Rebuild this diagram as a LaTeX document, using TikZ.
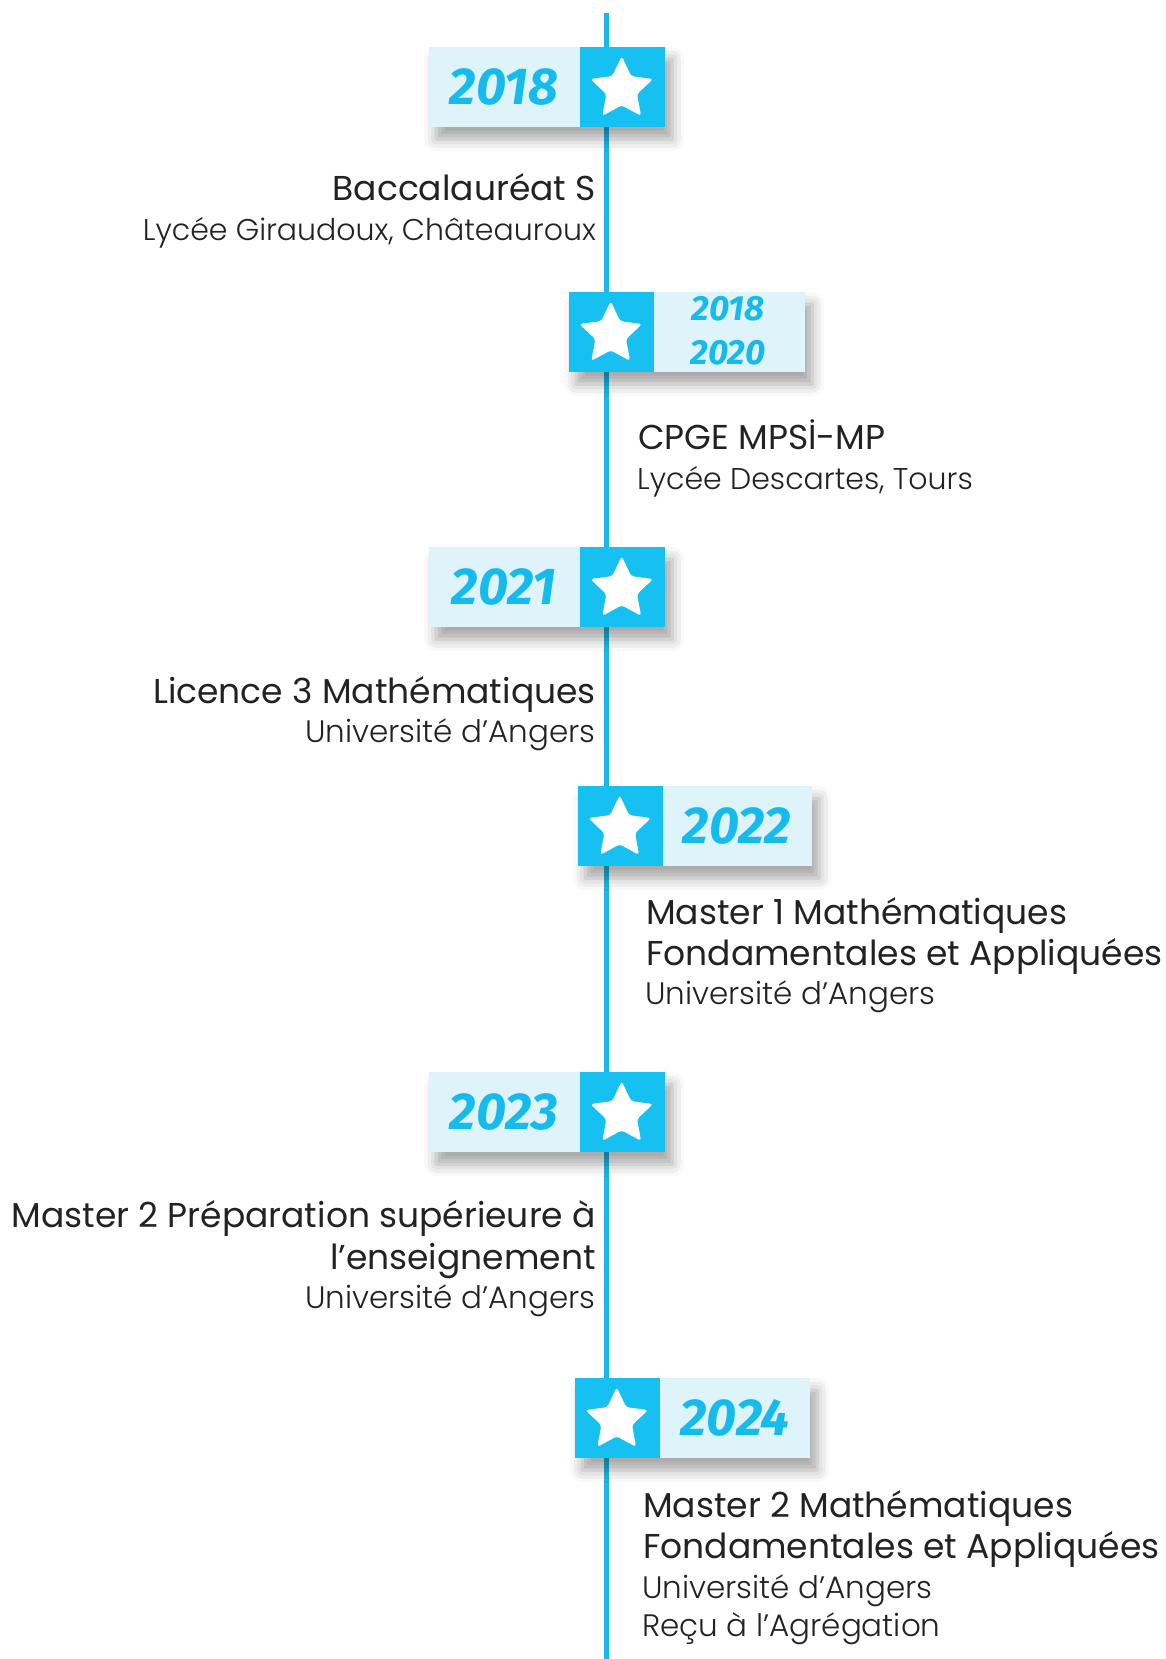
\documentclass[tikz,border=0pt]{standalone}
\usepackage{fontspec}
\setmainfont{Poppins}
\newfontfamily\plight{Poppins Light}
\newfontfamily\yearfont{Fira Sans}
\usetikzlibrary{shapes.geometric,shadows.blur}
\definecolor{tline}{RGB}{27,183,230}
\definecolor{tdark}{RGB}{22,193,242}
\definecolor{tlight}{RGB}{223,243,251}
\definecolor{tyear}{RGB}{22,187,238}
\definecolor{ttext}{RGB}{34,34,34}
\tikzset{
  timeline/.style={draw=tline, line width=5pt},
  lightbox/.style={fill=tlight, inner sep=0, minimum height=80, anchor=north west,
    blur shadow={shadow xshift=7pt, shadow yshift=-12pt, shadow blur radius=12pt, shadow opacity=35}},
  darkbox/.style={fill=tdark, inner sep=0, minimum width=85, minimum height=80},
  starmark/.style={star, star points=5, star point ratio=2.05, fill=white, inner sep=0,
    minimum size=66, rounded corners=3pt},
  yearbig/.style={text=tyear, inner sep=0, font=\yearfont\bfseries\itshape\fontsize{52}{52}\selectfont},
  yearsmall/.style={text=tyear, inner sep=0, font=\yearfont\bfseries\itshape\fontsize{35}{35}\selectfont},
  ttitle/.style={text=ttext, inner sep=0, font=\fontsize{34.5}{34.5}\selectfont},
  tsub/.style={text=ttext, inner sep=0, font=\plight\fontsize{31}{31}\selectfont},
  tsubs/.style={text=ttext, inner sep=0, font=\plight\fontsize{30}{30}\selectfont},
}
\begin{document}
\begin{tikzpicture}[x=1pt,y=-1pt]
\useasboundingbox (0,0) rectangle (1165,1659);
\coordinate (ltop) at (606,13);
\coordinate (lbot) at (606,1659);
\draw[timeline] (ltop) -- (lbot);

% 2018
\node[lightbox, minimum width=236] (b1) at (429,47) {};
\node[darkbox, anchor=north east] (s1) at (b1.north east) {};
\node[starmark] (st1) at ([xshift=-1pt,yshift=-2pt]s1.center) {};
\node[yearbig] (y1) at (504,87) {2018};
\node[ttitle, anchor=base east] (t1a) at (596,200) {Baccalauréat S};
\node[tsubs, anchor=base east] (t1b) at (596,240) {Lycée Giraudoux, Châteauroux};

% 2018-2020
\node[lightbox, minimum width=236] (b2) at (569,292) {};
\node[darkbox, anchor=north west] (s2) at (b2.north west) {};
\node[starmark] (st2) at ([xshift=-1pt,yshift=-2pt]s2.center) {};
\node[yearsmall] (y2a) at (728,309) {2018};
\node[yearsmall] (y2b) at (728,353) {2020};
\node[ttitle, anchor=base west] (t2a) at (638,449) {CPGE MPSİ-MP};
\node[tsubs, anchor=base west] (t2b) at (637,489) {Lycée Descartes, Tours};

% 2021
\node[lightbox, minimum width=236] (b3) at (429,547) {};
\node[darkbox, anchor=north east] (s3) at (b3.north east) {};
\node[starmark] (st3) at ([xshift=-1pt,yshift=-2pt]s3.center) {};
\node[yearbig] (y3) at (504,587) {2021};
\node[ttitle, anchor=base east] (t3a) at (596,703) {Licence 3 Mathématiques};
\node[tsub, anchor=base east] (t3b) at (596,742) {Université d’Angers};

% 2022
\node[lightbox, minimum width=234] (b4) at (578,786) {};
\node[darkbox, anchor=north west] (s4) at (b4.north west) {};
\node[starmark] (st4) at ([xshift=-1pt,yshift=-2pt]s4.center) {};
\node[yearbig] (y4) at (737,826) {2022};
\node[ttitle, anchor=base west] (t4a) at (646,924) {Master 1 Mathématiques};
\node[ttitle, anchor=base west] (t4b) at (646,965) {Fondamentales et Appliquées};
\node[tsub, anchor=base west] (t4c) at (645,1004) {Université d’Angers};

% 2023
\node[lightbox, minimum width=236] (b5) at (429,1072) {};
\node[darkbox, anchor=north east] (s5) at (b5.north east) {};
\node[starmark] (st5) at ([xshift=-1pt,yshift=-2pt]s5.center) {};
\node[yearbig] (y5) at (504,1112) {2023};
\node[ttitle, anchor=base east] (t5a) at (596,1227) {Master 2 Préparation supérieure à};
\node[ttitle, anchor=base east] (t5b) at (596,1269) {l’enseignement};
\node[tsub, anchor=base east] (t5c) at (596,1308) {Université d’Angers};

% 2024
\node[lightbox, minimum width=235] (b6) at (575,1378) {};
\node[darkbox, anchor=north west] (s6) at (b6.north west) {};
\node[starmark] (st6) at ([xshift=-1pt,yshift=-2pt]s6.center) {};
\node[yearbig] (y6) at (735,1418) {2024};
\node[ttitle, anchor=base west] (t6a) at (643,1517) {Master 2 Mathématiques};
\node[ttitle, anchor=base west] (t6b) at (643,1558) {Fondamentales et Appliquées};
\node[tsub, anchor=base west] (t6c) at (642,1598) {Université d’Angers};
\node[tsub, anchor=base west] (t6d) at (642,1636) {Reçu à l’Agrégation};
\end{tikzpicture}
\end{document}
